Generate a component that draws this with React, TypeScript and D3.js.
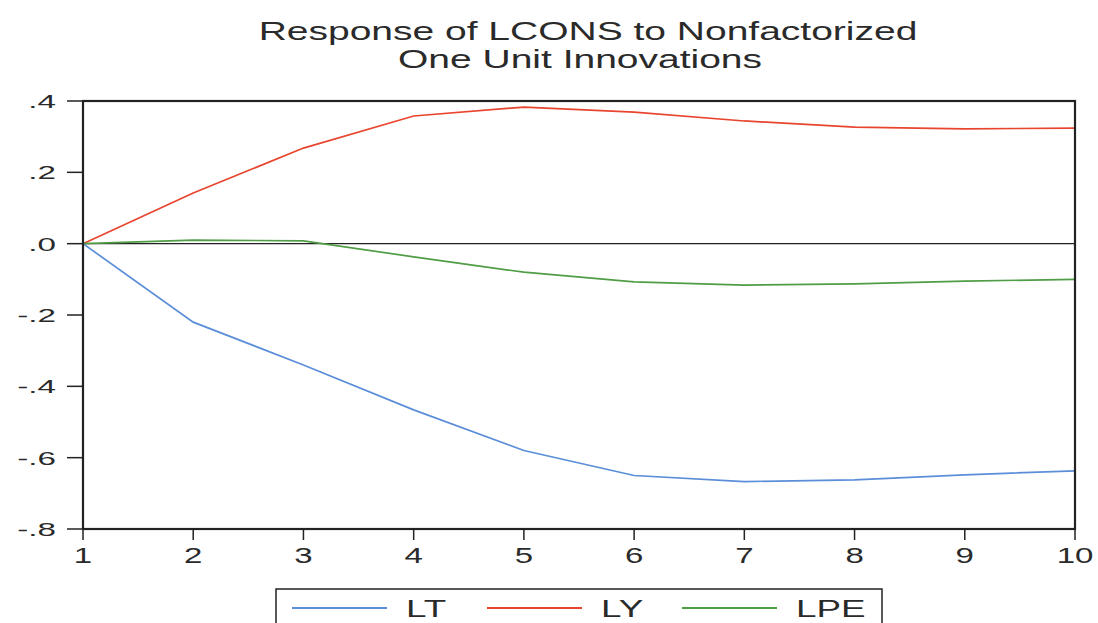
import React from "react";
import * as d3 from "d3";

const width = 1098;
const height = 623;
const margin = { top: 101, right: 23, bottom: 94, left: 83 };

const periods = [1, 2, 3, 4, 5, 6, 7, 8, 9, 10];
const lt = [0, -0.22, -0.34, -0.466, -0.58, -0.65, -0.667, -0.662, -0.648, -0.637];
const ly = [0, 0.142, 0.268, 0.358, 0.383, 0.369, 0.344, 0.327, 0.322, 0.324];
const lpe = [0, 0.01, 0.008, -0.037, -0.08, -0.107, -0.116, -0.113, -0.105, -0.1];
const yTicks = [0.4, 0.2, 0, -0.2, -0.4, -0.6, -0.8];
const seriesNames = ["LT", "LY", "LPE"];
const seriesColors = ["#5b8ed8", "#e8452f", "#4f9d45"];

const fmt = (v: number) => {
  if (Math.abs(v) < 1e-9) return ".0";
  return v.toFixed(1).replace("0.", ".");
};

// the original picture is stretched sideways, so text is widened too
const Label = ({ x, y, size, anchor, sx, children }: any) => (
  <text
    transform={`translate(${x},${y}) scale(${sx},1)`}
    textAnchor={anchor}
    fontSize={size}
    fill="#2a2a2a"
  >
    {children}
  </text>
);

const App = () => {
  const x = d3
    .scaleLinear()
    .domain([1, 10])
    .range([margin.left, width - margin.right]);
  const y = d3
    .scaleLinear()
    .domain([-0.8, 0.4])
    .range([height - margin.bottom, margin.top]);

  const line = d3
    .line<number>()
    .x((d, i) => x(periods[i]))
    .y(d => y(d));

  const series = [lt, ly, lpe];
  const font = "'Liberation Sans', Arial, sans-serif";

  // legend layout: line start, then label
  const legendX = [292, 487, 682];

  return (
    <svg
      width={width}
      height={height}
      style={{ position: "absolute", left: 0, top: 0, background: "#fff" }}
      fontFamily={font}
    >
      <Label x={588} y={40} size={26} anchor="middle" sx={1.5}>
        Response of LCONS to Nonfactorized
      </Label>
      <Label x={580} y={68} size={26} anchor="middle" sx={1.5}>
        One Unit Innovations
      </Label>

      {/* zero line */}
      <line
        x1={x(1)}
        x2={x(10)}
        y1={y(0)}
        y2={y(0)}
        stroke="#222"
        strokeWidth={1.3}
      />

      {series.map((s, i) => (
        <path
          key={seriesNames[i]}
          d={line(s) || ""}
          fill="none"
          stroke={seriesColors[i]}
          strokeWidth={1.7}
        />
      ))}

      {/* frame */}
      <rect
        x={x(1)}
        y={y(0.4)}
        width={x(10) - x(1)}
        height={y(-0.8) - y(0.4)}
        fill="none"
        stroke="#222"
        strokeWidth={2.2}
      />

      {/* y axis */}
      {yTicks.map(t => (
        <g key={t}>
          <line x1={x(1) - 16} x2={x(1)} y1={y(t)} y2={y(t)} stroke="#222" strokeWidth={1.5} />
          <Label x={x(1) - 27} y={y(t) + 7} size={19} anchor="end" sx={1.75}>
            {fmt(t)}
          </Label>
        </g>
      ))}

      {/* x axis */}
      {periods.map(p => (
        <g key={p}>
          <line x1={x(p)} x2={x(p)} y1={y(-0.8)} y2={y(-0.8) + 11} stroke="#222" strokeWidth={1.5} />
          <Label x={x(p)} y={y(-0.8) + 34} size={22} anchor="middle" sx={1.5}>
            {p}
          </Label>
        </g>
      ))}

      {/* legend */}
      <rect x={276} y={589} width={606} height={50} fill="none" stroke="#222" strokeWidth={1.5} />
      {legendX.map((lx, i) => (
        <g key={seriesNames[i]}>
          <line
            x1={lx}
            x2={lx + 95}
            y1={608}
            y2={608}
            stroke={seriesColors[i]}
            strokeWidth={1.8}
          />
          <Label x={lx + 114} y={617} size={23} anchor="start" sx={1.6}>
            {seriesNames[i]}
          </Label>
        </g>
      ))}
    </svg>
  );
};

export default App;
